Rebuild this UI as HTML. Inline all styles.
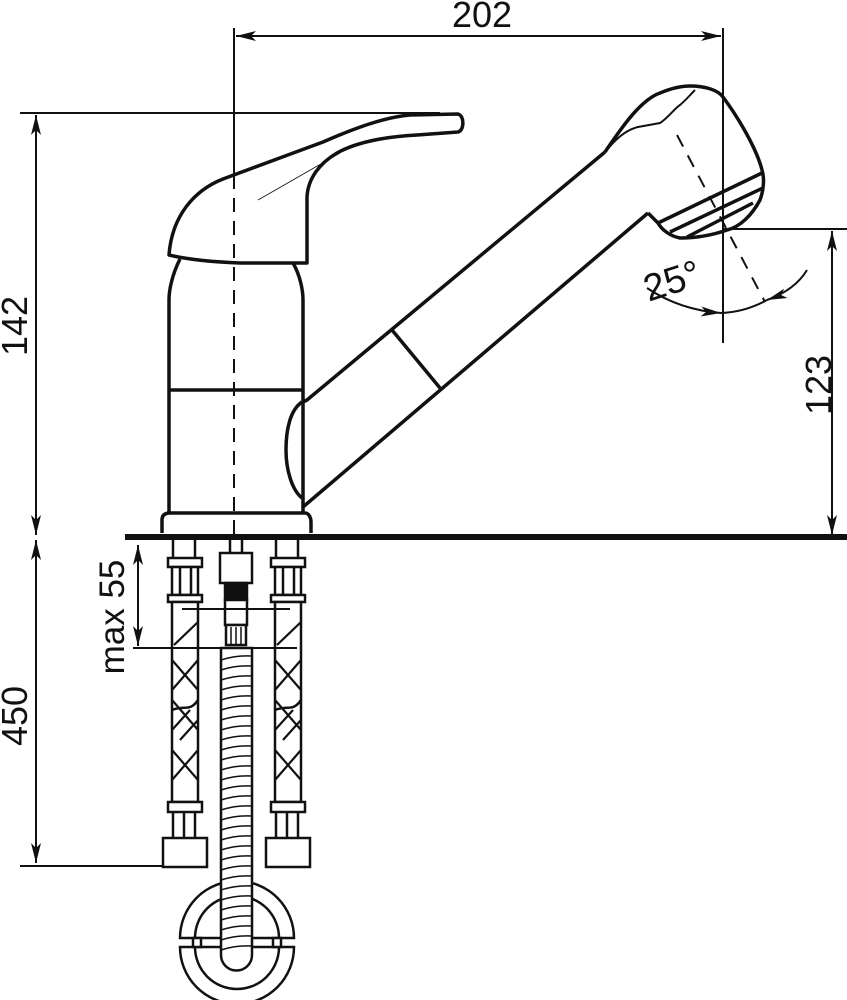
<!DOCTYPE html>
<html><head><meta charset="utf-8"><style>
html,body{margin:0;padding:0;background:#fff;}
svg{display:block;}
text{font-family:"Liberation Sans",sans-serif;fill:#111;}
</style></head><body>
<svg width="847" height="1000" viewBox="0 0 847 1000" xmlns="http://www.w3.org/2000/svg">
<defs>
<marker id="a" viewBox="0 0 20 10" refX="20" refY="5" markerWidth="20" markerHeight="10" markerUnits="userSpaceOnUse" orient="auto-start-reverse"><path d="M0,0 L20,5 L0,10 L5,5 z" fill="#111"/></marker>
</defs>
<g stroke="#111" fill="none" stroke-width="2">
<line x1="234" y1="28" x2="234" y2="175"/>
<line x1="234" y1="175" x2="234" y2="540" stroke-dasharray="14,9"/>
<line x1="723" y1="28" x2="723" y2="343"/>
<line x1="236" y1="36" x2="721" y2="36" marker-start="url(#a)" marker-end="url(#a)"/>
<line x1="20" y1="113" x2="440" y2="113"/>
<line x1="36" y1="115" x2="36" y2="535" marker-start="url(#a)" marker-end="url(#a)"/>
<line x1="36" y1="540" x2="36" y2="863" marker-start="url(#a)" marker-end="url(#a)"/>
<line x1="20" y1="866" x2="165" y2="866"/>
<line x1="138" y1="545" x2="138" y2="646" marker-start="url(#a)" marker-end="url(#a)"/>
<line x1="723" y1="229" x2="847" y2="229"/>
<line x1="832" y1="231" x2="832" y2="535" marker-start="url(#a)" marker-end="url(#a)"/>
</g>
<rect x="125" y="534" width="722" height="6" fill="#111"/>
<text x="482" y="27" font-size="36" text-anchor="middle">202</text>
<text transform="translate(27,326) rotate(-90)" font-size="36" text-anchor="middle">142</text>
<text transform="translate(27,716) rotate(-90)" font-size="36" text-anchor="middle">450</text>
<text transform="translate(124,617) rotate(-90)" font-size="35" text-anchor="middle">max 55</text>
<text transform="translate(831,385) rotate(-90)" font-size="36" text-anchor="middle">123</text>
<text transform="translate(676,293) rotate(-18)" font-size="38" text-anchor="middle">25°</text>

<g stroke="#111" fill="none" stroke-width="3.5" stroke-linejoin="round">
<path d="M169,255 C172,215 195,190 223,179 L323,142 C355,128 385,117 410,115 L458,114 C465,116 464,131 458,132 L417,135 C380,137 355,143 337,153 C320,163 308,178 307,197 L307,263 L240,263 C215,262 190,260 169,255 z"/>
<path d="M180,259 C172,275 169,290 169,300 L169,512"/>
<path d="M293,263 C300,275 303,290 303,300 L303,512"/>
<line x1="169" y1="390" x2="303" y2="390"/>
<path d="M162,533 L162,520 C162,515 165,513 170,513 L305,513 C309,513 311,518 311,522 L311,533"/>
<path d="M302,402 C290,410 286,430 286,450 C286,470 292,490 302,498"/>
<path d="M303,402 L307,400 L605,152"/>
<path d="M303,507 L648,213"/>
<line x1="392" y1="330" x2="440" y2="388"/>
<path d="M605,152 C620,130 640,100 660,93 C672,88 682,86 690,86 C705,86 718,90 723,97 C740,120 757,150 762,170 C765,180 763,192 760,200 C752,215 740,227 727,230 C710,236 695,238 680,238 C670,236 662,230 658,223 L648,213"/>
<line x1="658" y1="223" x2="762" y2="173"/>
<line x1="670" y1="232" x2="763" y2="188"/>
<line x1="687" y1="237" x2="753" y2="203"/>
</g>
<path d="M605,152 C615,140 625,130 638,127 L660,123 C668,118 675,108 680,105 C686,100 690,95 695,90" stroke="#111" stroke-width="2" fill="none"/>
<line x1="677" y1="135" x2="765" y2="302" stroke="#111" stroke-width="2" stroke-dasharray="13,10"/>
<path d="M647,288 Q680,310 721,313" stroke="#111" stroke-width="2" fill="none" marker-end="url(#a)"/>
<path d="M807,270 Q795,290 767,300" stroke="#111" stroke-width="2" fill="none" marker-end="url(#a)"/>
<path d="M721,313 Q745,312 767,300" stroke="#111" stroke-width="2" fill="none"/>
<line x1="258" y1="200" x2="340" y2="153" stroke="#111" stroke-width="0.8"/>

<g stroke="#111" fill="#fff" stroke-width="2.5">
<g id="h">
<line x1="173" y1="540" x2="173" y2="558"/><line x1="195" y1="540" x2="195" y2="558"/>
<rect x="168" y="558" width="34" height="9"/>
<rect x="172" y="567" width="26" height="28"/>
<line x1="180" y1="567" x2="180" y2="595"/><line x1="191" y1="567" x2="191" y2="595"/>
<rect x="168" y="595" width="34" height="7"/>
<rect x="172" y="602" width="26" height="200"/>
<g fill="none" stroke-width="2.2">
<path d="M172,660 L198,690 M172,690 L198,660 M174,645 L198,622 M172,700 L198,730 M172,730 L190,710 M180,740 L198,720 M172,750 L198,780 M172,780 L198,750"/>
<path d="M172,710 C185,705 190,712 198,700" stroke-width="2.5"/>
</g>
<rect x="168" y="802" width="34" height="10"/>
<line x1="173" y1="812" x2="173" y2="838"/><line x1="195" y1="812" x2="195" y2="838"/>
<line x1="184" y1="812" x2="184" y2="838"/>
<rect x="163" y="838" width="44" height="29"/>
</g>
<use href="#h" x="103"/>
<line x1="230" y1="540" x2="230" y2="553"/><line x1="242" y1="540" x2="242" y2="553"/>
<rect x="220" y="553" width="32" height="30"/>
<rect x="225" y="583" width="22" height="17" fill="#111"/>
<rect x="225" y="600" width="22" height="25"/>
<rect x="226" y="625" width="20" height="20"/>
<path d="M231,627 V644 M236,627 V644 M241,627 V644" stroke-width="1.5"/>
<path d="M180,938 A57,57 0 0 1 294,938 Z" fill="#fff"/>
<path d="M195,938 A42,42 0 0 1 279,938" fill="none"/>
<path d="M180,947 A57,57 0 0 0 294,947 Z" fill="#fff"/>
<path d="M195,947 A42,42 0 0 0 279,947" fill="none"/>
<rect x="193" y="938" width="8" height="9"/><rect x="273" y="938" width="8" height="9"/>
<path d="M221,648 L252,648 L252,955 A15.5,15.5 0 0 1 221,955 Z"/>
<path d="M221,660 q15,-5 31,-4 M221,670 q15,-5 31,-4 M221,680 q15,-5 31,-4 M221,690 q15,-5 31,-4 M221,700 q15,-5 31,-4 M221,710 q15,-5 31,-4 M221,720 q15,-5 31,-4 M221,730 q15,-5 31,-4 M221,740 q15,-5 31,-4 M221,750 q15,-5 31,-4 M221,760 q15,-5 31,-4 M221,770 q15,-5 31,-4 M221,780 q15,-5 31,-4 M221,790 q15,-5 31,-4 M221,800 q15,-5 31,-4 M221,810 q15,-5 31,-4 M221,820 q15,-5 31,-4 M221,830 q15,-5 31,-4 M221,840 q15,-5 31,-4 M221,850 q15,-5 31,-4 M221,860 q15,-5 31,-4 M221,870 q15,-5 31,-4 M221,880 q15,-5 31,-4 M221,890 q15,-5 31,-4 M221,900 q15,-5 31,-4 M221,910 q15,-5 31,-4 M221,920 q15,-5 31,-4 M221,930 q15,-5 31,-4 M221,940 q15,-5 31,-4 M221,950 q15,-5 31,-4" fill="none" stroke-width="1.5"/>
</g>
<g stroke="#111" stroke-width="2">
<line x1="182" y1="609" x2="290" y2="609"/>
<line x1="133" y1="648" x2="297" y2="648"/>
</g>
</svg>
</body></html>
